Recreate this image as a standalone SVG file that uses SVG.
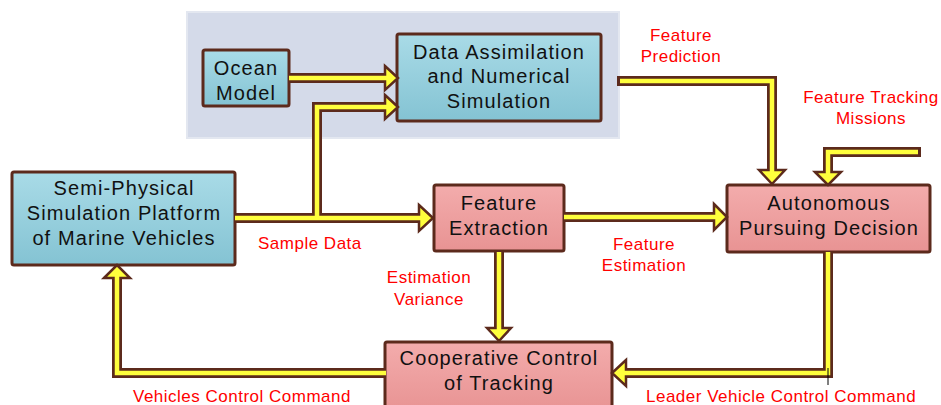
<svg xmlns="http://www.w3.org/2000/svg" width="941" height="405" viewBox="0 0 941 405">
<defs>
<linearGradient id="gb" x1="0" y1="0" x2="0" y2="1"><stop offset="0" stop-color="#a9dbe7"/><stop offset="1" stop-color="#84c3d3"/></linearGradient>
<linearGradient id="gr" x1="0" y1="0" x2="0" y2="1"><stop offset="0" stop-color="#f3acac"/><stop offset="1" stop-color="#e89393"/></linearGradient>
<style>
.bb{fill:url(#gb);stroke:#5c2a1c;stroke-width:3}
.br{fill:url(#gr);stroke:#5c2a1c;stroke-width:3}
.t{font-family:"Liberation Sans",Arial,sans-serif;font-size:20px;letter-spacing:1.1px;fill:#111;text-anchor:middle}
.l{font-family:"Liberation Sans",Arial,sans-serif;font-size:17px;letter-spacing:0.5px;fill:#ff0000}
.m{text-anchor:middle}
.o{fill:none;stroke:#5c2a1c;stroke-width:10;stroke-linejoin:miter}
.i{fill:none;stroke:#ffff3c;stroke-width:4.5;stroke-linejoin:miter}
.h{fill:#ffff3c;stroke:#5c2a1c;stroke-width:2.5;stroke-linejoin:miter}
</style>
</defs>
<rect width="941" height="405" fill="#fff"/>
<rect id="panel" x="187" y="12" width="432" height="126" fill="#d4dae9" stroke="#e3e7f0" stroke-width="2"/>

<g id="ocean"><rect class="bb" x="203" y="50" width="86" height="56" rx="2"/>
<text class="t" x="246" y="75">Ocean</text><text class="t" x="246" y="100">Model</text></g>

<g id="assim"><rect class="bb" x="397" y="34" width="204" height="87" rx="2"/>
<text class="t" x="499" y="59">Data Assimilation</text><text class="t" x="499" y="83">and Numerical</text><text class="t" x="499" y="108">Simulation</text></g>

<g id="platform"><rect class="bb" x="12" y="172" width="223" height="93" rx="2"/>
<text class="t" x="124" y="195">Semi-Physical</text><text class="t" x="124" y="220">Simulation Platform</text><text class="t" x="124" y="245">of Marine Vehicles</text></g>

<g id="extraction"><rect class="br" x="434" y="185" width="130" height="66" rx="2"/>
<text class="t" x="499" y="210">Feature</text><text class="t" x="499" y="235">Extraction</text></g>

<g id="decision"><rect class="br" x="727" y="185" width="203" height="67" rx="2"/>
<text class="t" x="829" y="210">Autonomous</text><text class="t" x="829" y="235">Pursuing Decision</text></g>

<g id="coop"><rect class="br" x="385" y="342" width="227" height="70" rx="2"/>
<text class="t" x="499" y="365">Cooperative Control</text><text class="t" x="499" y="390">of Tracking</text></g>

<g id="connectors">
<path class="o" d="M289,78 H386"/>
<path class="o" d="M317,218 V107 H386"/>
<path class="o" d="M235,218 H420"/>
<path class="o" d="M564,217 H715"/>
<path class="o" d="M617,81 H772 V171"/>
<path class="o" d="M921,152 H828 V173"/>
<path class="o" d="M828,252 V373 H626"/>
<path class="o" d="M386,373 H117 V278"/>
<path class="o" d="M499,252 V329"/>
<polygon class="h" points="385,66 398,78 385,90"/>
<polygon class="h" points="385,95 398,107 385,119"/>
<polygon class="h" points="419,205 433,218 419,231"/>
<polygon class="h" points="714,204 727,217 714,230"/>
<polygon class="h" points="759,170 772,184 785,170"/>
<polygon class="h" points="815,172 828,185 841,172"/>
<polygon class="h" points="626,360 612,373 626,386"/>
<polygon class="h" points="104,278 117,265 130,278"/>
<polygon class="h" points="487,328 499,341 511,328"/>
<path class="i" d="M289,78 H387"/>
<path class="i" d="M317,218 V107 H387"/>
<path class="i" d="M235,218 H421"/>
<path class="i" d="M564,217 H716"/>
<path class="i" d="M620,81 H772 V172"/>
<path class="i" d="M918,152 H828 V174"/>
<path class="i" d="M828,252 V373 H624"/>
<path class="i" d="M386,373 H117 V276"/>
<path class="i" d="M499,252 V330"/>
<path d="M828,368 V385" stroke="#000" stroke-width="1"/>
</g>

<g id="labels">
<text class="l m" x="681" y="41">Feature</text><text class="l m" x="681" y="62">Prediction</text>
<text class="l m" x="871" y="103">Feature Tracking</text><text class="l m" x="871" y="124">Missions</text>
<text class="l" x="258" y="249">Sample Data</text>
<text class="l m" x="644" y="250">Feature</text><text class="l m" x="644" y="271">Estimation</text>
<text class="l m" x="429" y="283">Estimation</text><text class="l m" x="429" y="305">Variance</text>
<text class="l" x="133" y="402">Vehicles Control Command</text>
<text class="l" x="646" y="402">Leader Vehicle Control Command</text>
</g>
</svg>
